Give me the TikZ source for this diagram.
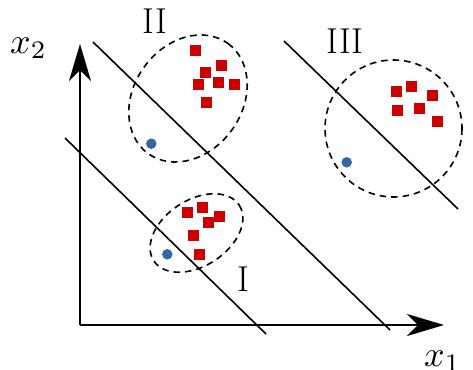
\documentclass[tikz,border=0pt]{standalone}
\usepackage{graphicx}
\usetikzlibrary{arrows.meta}
\definecolor{sqred}{RGB}{204,0,0}
\definecolor{dotblue}{RGB}{52,101,164}
\begin{document}
\begin{tikzpicture}[x=1pt,y=-1pt,
  sq/.style={fill=sqred,draw=none,minimum size=11pt,inner sep=0pt,outer sep=0pt},
  dot/.style={circle,fill=dotblue,draw=none,minimum size=10.5pt,inner sep=0pt},
  sep/.style={line width=1.6pt,black},
  grp/.style={line width=1.6pt,dash pattern=on 6.5pt off 5pt},
  axis/.style={line width=1.8pt,-{Stealth[length=37pt,width=22pt,inset=11pt]}},
  lbl/.style={font=\fontsize{36}{40}\selectfont,inner sep=0pt},
  mlbl/.style={inner sep=0pt}]
\useasboundingbox (0,0) rectangle (473,369);
% axes
\coordinate (O) at (80,325);
\coordinate (Ytip) at (80,44);
\coordinate (Xtip) at (444,325);
\draw[axis] (O) -- (Ytip);
\draw[axis] (O) -- (Xtip);
\node[mlbl,anchor=base west] (x2) at (10,53) {\scalebox{3.6}{$x_2$}};
\node[mlbl,anchor=base west] (x1) at (424,366) {\scalebox{3.6}{$x_1$}};
% separating lines
\coordinate (a1) at (65,138);  \coordinate (a2) at (266,334);
\coordinate (b1) at (93,42);   \coordinate (b2) at (390,330);
\coordinate (c1) at (284,41);  \coordinate (c2) at (458,209);
\draw[sep] (a1) -- (a2);
\draw[sep] (b1) -- (b2);
\draw[sep] (c1) -- (c2);
% group ellipses
\draw[grp,shift={(188,98.5)},rotate=54] (0,0) ellipse [x radius=68,y radius=54];
\draw[grp,shift={(196.5,233)},rotate=33] (0,0) ellipse [x radius=51,y radius=33];
\draw[grp] (393.5,128.5) circle [radius=68.5];
% group II
\node[sq] (s21) at (195.7,50.3) {};
\node[sq] (s22) at (221.3,65.3) {};
\node[sq] (s23) at (205.3,72.3) {};
\node[sq] (s24) at (198.3,84.3) {};
\node[sq] (s25) at (218.3,82.3) {};
\node[sq] (s26) at (234.3,84.3) {};
\node[sq] (s27) at (206.3,102.3) {};
\node[dot] (d2) at (151.3,143.7) {};
% group I
\node[sq] (s11) at (187.7,212.3) {};
\node[sq] (s12) at (202.7,207.3) {};
\node[sq] (s13) at (219.3,216) {};
\node[sq] (s14) at (208.3,222.3) {};
\node[sq] (s15) at (193.3,235.3) {};
\node[sq] (s16) at (199.3,254.3) {};
\node[dot] (d1) at (167.3,254.3) {};
% group III
\node[sq] (s31) at (396.3,91.3) {};
\node[sq] (s32) at (411.3,86.3) {};
\node[sq] (s33) at (432.3,95.3) {};
\node[sq] (s34) at (397.3,110.3) {};
\node[sq] (s35) at (419.3,108.3) {};
\node[sq] (s36) at (437.3,121.3) {};
\node[dot] (d3) at (346.7,162.3) {};
% labels
\node[lbl] (lII) at (155,21) {II};
\node[lbl] (lIII) at (345,41) {III};
\node[lbl] (lI) at (243.5,279.5) {I};
\end{tikzpicture}
\end{document}
